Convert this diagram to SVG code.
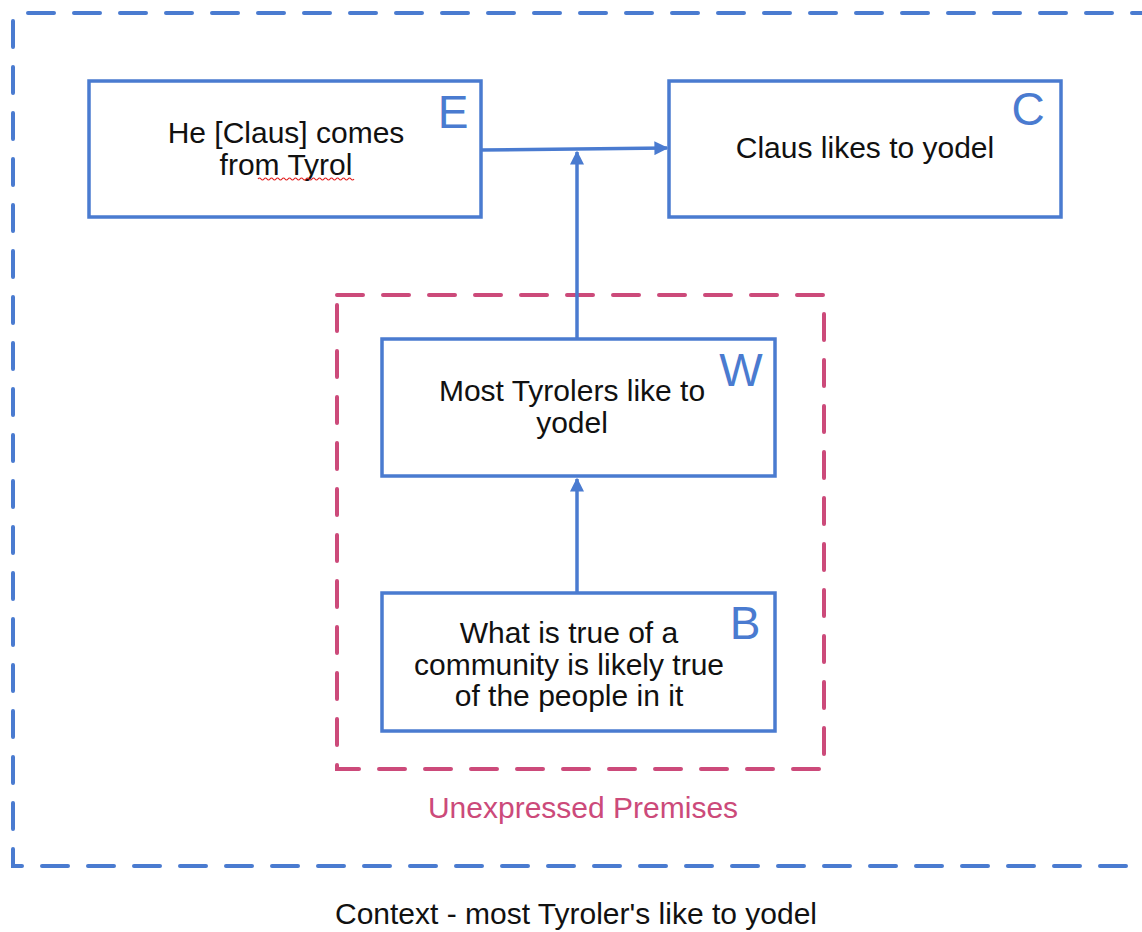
<svg xmlns="http://www.w3.org/2000/svg" width="1142" height="932" viewBox="0 0 1142 932">
<style>
.box{fill:#fff;stroke:#4a7bd0;stroke-width:3.5}
.t{font-family:"Liberation Sans",Arial,sans-serif;font-size:30px;fill:#111;text-anchor:middle}
.lbl{font-family:"Liberation Sans",Arial,sans-serif;font-size:46px;fill:#4a7bd0;text-anchor:middle}
.conn{stroke:#4a7bd0;stroke-width:3.5;fill:none}
</style>
<defs>
<marker id="arr" viewBox="0 0 10 10" refX="9" refY="5" markerWidth="4" markerHeight="4" orient="auto" markerUnits="strokeWidth">
<path d="M0,0 L10,5 L0,10 z" fill="#4a7bd0"/>
</marker>
</defs>
<rect width="1142" height="932" fill="#fff"/>
<g id="context">
<path d="M28,13 H1142" fill="none" stroke="#4a7bd0" stroke-width="4" stroke-dasharray="26,20" stroke-linecap="round"/>
<path d="M13,21 V866 H1142" fill="none" stroke="#4a7bd0" stroke-width="4" stroke-dasharray="26,20" stroke-linecap="round"/>
<text class="t" x="576" y="924">Context - most Tyroler's like to yodel</text>
</g>
<g id="premises">
<rect x="337" y="295" width="487" height="474" fill="none" stroke="#cc4a7a" stroke-width="4" stroke-dasharray="26,20" stroke-linecap="round"/>
<text class="t" x="583" y="818" style="fill:#cc4a7a">Unexpressed Premises</text>
</g>
<g id="connectors">
<path class="conn" d="M481,150 L667,148" marker-end="url(#arr)"/>
<path class="conn" d="M577,338 V152" marker-end="url(#arr)"/>
<path class="conn" d="M577,593 V479" marker-end="url(#arr)"/>
</g>
<g id="E">
<rect class="box" x="89" y="81" width="392" height="136"/>
<text class="t" x="286" y="143">He [Claus] comes</text>
<text class="t" x="286" y="175">from Tyrol</text>
<path d="M258,179 q1.5,-2 3,0 t3,0 t3,0 t3,0 t3,0 t3,0 t3,0 t3,0 t3,0 t3,0 t3,0 t3,0 t3,0 t3,0 t3,0 t3,0 t3,0 t3,0 t3,0 t3,0 t3,0 t3,0 t3,0 t3,0 t3,0 t3,0 t3,0 t3,0 t3,0 t3,0 t3,0 t3,0" fill="none" stroke="#e02020" stroke-width="1.2"/>
<text class="lbl" x="453" y="128">E</text>
</g>
<g id="C">
<rect class="box" x="669" y="81" width="392" height="136"/>
<text class="t" x="865" y="158">Claus likes to yodel</text>
<text class="lbl" x="1028" y="125">C</text>
</g>
<g id="W">
<rect class="box" x="382" y="339" width="393" height="137"/>
<text class="t" x="572" y="401">Most Tyrolers like to</text>
<text class="t" x="572" y="433">yodel</text>
<text class="lbl" x="741" y="386">W</text>
</g>
<g id="B">
<rect class="box" x="382" y="593" width="393" height="138"/>
<text class="t" x="569" y="643">What is true of a</text>
<text class="t" x="569" y="675">community is likely true</text>
<text class="t" x="569" y="706">of the people in it</text>
<text class="lbl" x="745" y="639">B</text>
</g>
</svg>
